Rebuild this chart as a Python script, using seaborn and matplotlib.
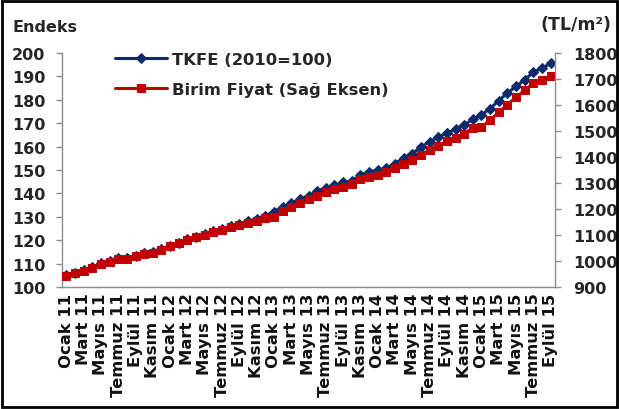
import numpy as np
import matplotlib
matplotlib.use("Agg")
import matplotlib.pyplot as plt
import matplotlib.patches as patches
import seaborn as sns

# Monthly data Ocak 2011 - Eylül 2015
month_names = ["Ocak", "Şubat", "Mart", "Nisan", "Mayıs", "Haziran",
               "Temmuz", "Ağustos", "Eylül", "Ekim", "Kasım", "Aralık"]
years = ["11", "12", "13", "14", "15"]

tkfe = [105.1, 106.1, 107.2, 108.4, 110.1, 111.2, 112.4, 112.3, 113.4, 114.4,
        114.9, 116.2, 117.6, 119.0, 120.4, 121.5, 122.6, 123.8, 124.8, 125.9,
        127.1, 128.2, 129.0, 130.4, 132.2, 134.3, 135.7, 137.6, 139.0, 141.0,
        142.4, 143.5, 144.7, 145.4, 147.8, 149.2, 149.9, 150.9, 152.7, 155.2,
        157.0, 159.9, 162.0, 164.1, 165.8, 167.4, 169.4, 171.6, 173.6, 176.2,
        179.7, 182.9, 185.7, 188.6, 191.8, 193.5, 195.6]

birim_fiyat = [943, 952, 962, 973, 988, 998, 1009, 1008, 1018, 1027,
               1031, 1043, 1056, 1068, 1081, 1091, 1101, 1112, 1121, 1130,
               1139, 1148, 1154, 1164, 1170, 1192, 1208, 1224, 1238, 1251,
               1265, 1276, 1283, 1298, 1314, 1324, 1330, 1343, 1357, 1375,
               1388, 1409, 1426, 1443, 1461, 1473, 1490, 1512, 1516, 1541,
               1573, 1601, 1630, 1656, 1684, 1697, 1713]

labels = [f"{m} {y}" for y in years for m in month_names][:len(tkfe)]

sns.set_style("white")
plt.rcParams["font.family"] = ["DejaVu Sans"]

blue = "#0D2B6B"
red = "#C00000"
grey = "#8C8C8C"

fig = plt.figure(figsize=(6.19, 4.10), dpi=100)
ax = fig.add_axes([62 / 619, 1 - 288 / 410, (555 - 62) / 619, (288 - 54) / 410])
ax2 = ax.twinx()

idx = np.arange(len(tkfe))
sns.lineplot(x=idx, y=tkfe, ax=ax, color=blue, lw=2.2, marker="D", ms=4.8,
             mec=blue, label="TKFE (2010=100)", legend=False)
sns.lineplot(x=idx, y=birim_fiyat, ax=ax2, color=red, lw=2.2, marker="s", ms=6.3,
             mec=red, label="Birim Fiyat (Sağ Eksen)", legend=False)

ax.set_xlim(-0.5, len(tkfe) - 0.5)
ax.set_ylim(100, 200)
ax2.set_ylim(900, 1800)
ax.set_yticks(np.arange(100, 201, 10))
ax2.set_yticks(np.arange(900, 1801, 100))
ax.set_xticks(idx[::2])
ax.set_xticklabels(labels[::2], rotation=90, fontsize=11.8, fontweight="bold")
ax.set_xticks(np.arange(-0.5, len(tkfe), 1), minor=True)
ax.set_xlabel("")
ax.set_ylabel("")
ax2.set_ylabel("")

for a in (ax, ax2):
    for s in a.spines.values():
        s.set_visible(False)
ax.spines["left"].set_visible(True)
ax.spines["bottom"].set_visible(True)
ax2.spines["right"].set_visible(True)
for s in (ax.spines["left"], ax.spines["bottom"], ax2.spines["right"]):
    s.set_color(grey)
    s.set_linewidth(1)

ax.tick_params(axis="x", which="major", length=0, pad=4, labelcolor="#111111")
ax.tick_params(axis="x", which="minor", direction="out", length=4, color=grey, width=1)
ax.tick_params(axis="y", direction="out", length=4, color=grey, width=1, pad=8,
               labelsize=11.5, left=True)
ax2.tick_params(axis="y", direction="out", length=4, color=grey, width=1, pad=9,
                labelsize=11.5, right=True)
for t in ax.get_yticklabels() + ax2.get_yticklabels():
    t.set_fontweight("bold")

handles = ax.get_lines()[:1] + ax2.get_lines()[:1]
leg = fig.legend(handles, ["TKFE (2010=100)", "Birim Fiyat (Sağ Eksen)"],
                 loc="upper left", bbox_to_anchor=(115 / 619, 1 - 53 / 410),
                 frameon=False, borderpad=0, borderaxespad=0, handlelength=3.2,
                 handletextpad=0.3, labelspacing=0.9,
                 prop={"weight": "bold", "size": 11.8})

fig.text(12 / 619, 1 - 27 / 410, "Endeks", fontsize=11.5, fontweight="bold",
         va="center", ha="left")
fig.text(612 / 619, 1 - 25 / 410, "(TL/m²)", fontsize=12.5, fontweight="bold",
         va="center", ha="right")

fig.patches.append(patches.Rectangle((0.004, 0.005), 0.992, 0.99,
                                     transform=fig.transFigure, fill=False,
                                     lw=2, ec="black"))

fig.savefig("out.png", dpi=100)
